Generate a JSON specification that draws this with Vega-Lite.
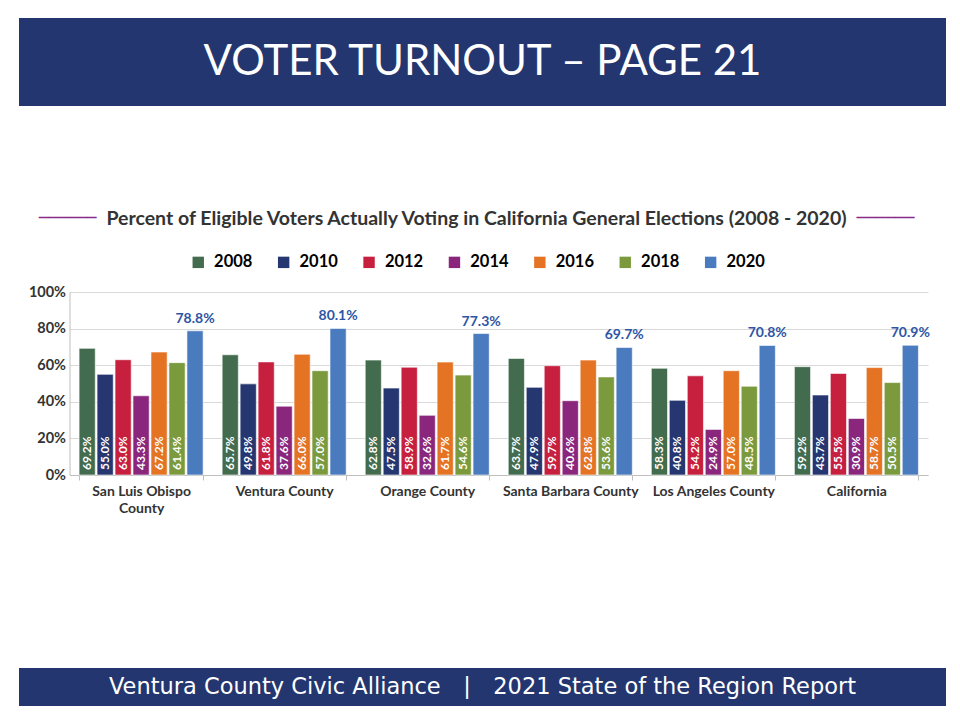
{
  "$schema": "https://vega.github.io/schema/vega-lite/v6.json",
  "background": "white",
  "padding": {"left": 19, "top": 18, "right": 14, "bottom": 15},
  "spacing": 102,
  "columns": 1,
  "align": "none",
  "resolve": {"scale": {"color": "independent"}, "legend": {"color": "independent"}},
  "config": {"view": {"stroke": null}, "font": "Lato"},
  "concat": [
    {
      "width": 927,
      "height": 88,
      "view": {"fill": "#23366f", "stroke": null},
      "data": {"values": [{"label": "VOTER TURNOUT – PAGE 21"}]},
      "mark": {"type": "text", "color": "white", "font": "Lato", "fontSize": 42, "baseline": "middle"},
      "encoding": {"text": {"field": "label", "type": "nominal"}}
    },
    {
      "width": 909,
      "height": 183,
      "title": {
        "text": "Percent of Eligible Voters Actually Voting in California General Elections (2008 - 2020)",
        "subtitle": "\u2500\u2500\u2500\u2500\u2500\u2500\u2003\u2003\u2003\u2003\u2003\u2003\u2003\u2003\u2003\u2003\u2003\u2003\u2003\u2003\u2003\u2003\u2003\u2003\u2003\u2003\u2003\u2003\u2003\u2003\u2003\u2003\u2003\u2003\u2003\u2003\u2003\u2003\u2003\u2003\u2003\u2003\u2003\u2003\u2003\u2003\u2003\u2003\u2003\u2003\u2003\u2003\u2003\u2002\u2500\u2500\u2500\u2500\u2500\u2500",
        "anchor": "middle",
        "frame": "group",
        "dx": 3,
        "font": "Lato",
        "fontSize": 19.5,
        "fontWeight": "bold",
        "color": "#333333",
        "subtitleFont": "DejaVu Sans",
        "subtitleFontSize": 16,
        "subtitleColor": "#8b2a8c",
        "subtitlePadding": -19,
        "offset": 25
      },
      "data": {"values": [
        {"county": "San Luis Obispo County", "year": "2008", "value": 0.692},
        {"county": "San Luis Obispo County", "year": "2010", "value": 0.550},
        {"county": "San Luis Obispo County", "year": "2012", "value": 0.630},
        {"county": "San Luis Obispo County", "year": "2014", "value": 0.433},
        {"county": "San Luis Obispo County", "year": "2016", "value": 0.672},
        {"county": "San Luis Obispo County", "year": "2018", "value": 0.614},
        {"county": "San Luis Obispo County", "year": "2020", "value": 0.788},
        {"county": "Ventura County", "year": "2008", "value": 0.657},
        {"county": "Ventura County", "year": "2010", "value": 0.498},
        {"county": "Ventura County", "year": "2012", "value": 0.618},
        {"county": "Ventura County", "year": "2014", "value": 0.376},
        {"county": "Ventura County", "year": "2016", "value": 0.660},
        {"county": "Ventura County", "year": "2018", "value": 0.570},
        {"county": "Ventura County", "year": "2020", "value": 0.801},
        {"county": "Orange County", "year": "2008", "value": 0.628},
        {"county": "Orange County", "year": "2010", "value": 0.475},
        {"county": "Orange County", "year": "2012", "value": 0.589},
        {"county": "Orange County", "year": "2014", "value": 0.326},
        {"county": "Orange County", "year": "2016", "value": 0.617},
        {"county": "Orange County", "year": "2018", "value": 0.546},
        {"county": "Orange County", "year": "2020", "value": 0.773},
        {"county": "Santa Barbara County", "year": "2008", "value": 0.637},
        {"county": "Santa Barbara County", "year": "2010", "value": 0.479},
        {"county": "Santa Barbara County", "year": "2012", "value": 0.597},
        {"county": "Santa Barbara County", "year": "2014", "value": 0.406},
        {"county": "Santa Barbara County", "year": "2016", "value": 0.628},
        {"county": "Santa Barbara County", "year": "2018", "value": 0.536},
        {"county": "Santa Barbara County", "year": "2020", "value": 0.697},
        {"county": "Los Angeles County", "year": "2008", "value": 0.583},
        {"county": "Los Angeles County", "year": "2010", "value": 0.408},
        {"county": "Los Angeles County", "year": "2012", "value": 0.542},
        {"county": "Los Angeles County", "year": "2014", "value": 0.249},
        {"county": "Los Angeles County", "year": "2016", "value": 0.570},
        {"county": "Los Angeles County", "year": "2018", "value": 0.485},
        {"county": "Los Angeles County", "year": "2020", "value": 0.708},
        {"county": "California", "year": "2008", "value": 0.592},
        {"county": "California", "year": "2010", "value": 0.437},
        {"county": "California", "year": "2012", "value": 0.555},
        {"county": "California", "year": "2014", "value": 0.309},
        {"county": "California", "year": "2016", "value": 0.587},
        {"county": "California", "year": "2018", "value": 0.505},
        {"county": "California", "year": "2020", "value": 0.709}
      ]},
      "encoding": {
        "x": {
          "field": "county", "type": "nominal", "sort": null,
          "scale": {"range": [50.5, 909], "paddingInner": 0.133, "paddingOuter": 0.067},
          "axis": {
            "title": "\u00a0", "titleFontSize": 10, "titlePadding": 41,
            "labelAngle": 0, "labelFont": "Lato", "labelFontSize": 14, "labelFontWeight": "bold",
            "labelColor": "#333333", "labelPadding": 4, "labelLineHeight": 17,
            "labelExpr": "datum.value == 'San Luis Obispo County' ? ['San Luis Obispo', 'County'] : datum.value",
            "tickBand": "extent", "tickSize": 5, "tickColor": "#bfbfbf", "domainColor": "#bfbfbf", "grid": false
          }
        },
        "xOffset": {"field": "year", "type": "nominal", "scale": {"paddingInner": 0.1}},
        "y": {
          "field": "value", "type": "quantitative",
          "scale": {"domain": [0, 1]},
          "axis": {
            "title": null, "offset": -50.5,
            "format": "%", "values": [0, 0.2, 0.4, 0.6, 0.8, 1],
            "labelFont": "Lato", "labelFontSize": 14.5, "labelFontWeight": "bold", "labelColor": "#333333",
            "labelPadding": 4, "ticks": false, "domainColor": "#bfbfbf", "gridColor": "#d9d9d9"
          }
        }
      },
      "layer": [
        {
          "mark": {"type": "bar", "stroke": "white", "strokeWidth": 0.6},
          "encoding": {
            "color": {
              "field": "year", "type": "nominal",
              "scale": {
                "domain": ["2008", "2010", "2012", "2014", "2016", "2018", "2020"],
                "range": ["#436c4f", "#253670", "#c7203f", "#8a277d", "#e57324", "#7b9a3d", "#4a7bbf"]
              },
              "legend": {
                "orient": "none", "legendX": 171, "legendY": -38, "direction": "horizontal", "title": null,
                "symbolType": "square", "symbolSize": 130, "symbolStrokeWidth": 0, "symbolOpacity": 1,
                "labelFont": "Lato", "labelFontSize": 16.5, "labelFontWeight": "bold",
                "labelOffset": 7.6, "columnPadding": 22.4,
                "encode": {
                  "labels": {"update": {"fill": {"signal": "{'2008':'#436c4f','2010':'#253670','2012':'#c7203f','2014':'#8a277d','2016':'#e57324','2018':'#7b9a3d','2020':'#4a7bbf'}[datum.value]"}}}
                }
              }
            }
          }
        },
        {
          "transform": [{"filter": "datum.year != '2020'"}],
          "mark": {"type": "text", "angle": 270, "align": "left", "baseline": "middle", "dx": 5, "color": "white", "font": "Lato", "fontSize": 12, "fontWeight": "bold"},
          "encoding": {
            "y": {"datum": 0},
            "text": {"field": "value", "type": "quantitative", "format": ".1%"}
          }
        },
        {
          "transform": [{"filter": "datum.year == '2020'"}],
          "mark": {"type": "text", "baseline": "alphabetic", "dy": -8, "color": "#2e55a5", "font": "Lato", "fontSize": 14, "fontWeight": "bold"},
          "encoding": {
            "text": {"field": "value", "type": "quantitative", "format": ".1%"}
          }
        }
      ]
    },
    {
      "width": 927,
      "height": 38,
      "view": {"fill": "#23366f", "stroke": null},
      "data": {"values": [{"label": "Ventura County Civic Alliance\u2003|\u20032021 State of the Region Report"}]},
      "mark": {"type": "text", "color": "white", "font": "DejaVu Sans", "fontSize": 22.5, "baseline": "middle"},
      "encoding": {"text": {"field": "label", "type": "nominal"}}
    }
  ]
}
